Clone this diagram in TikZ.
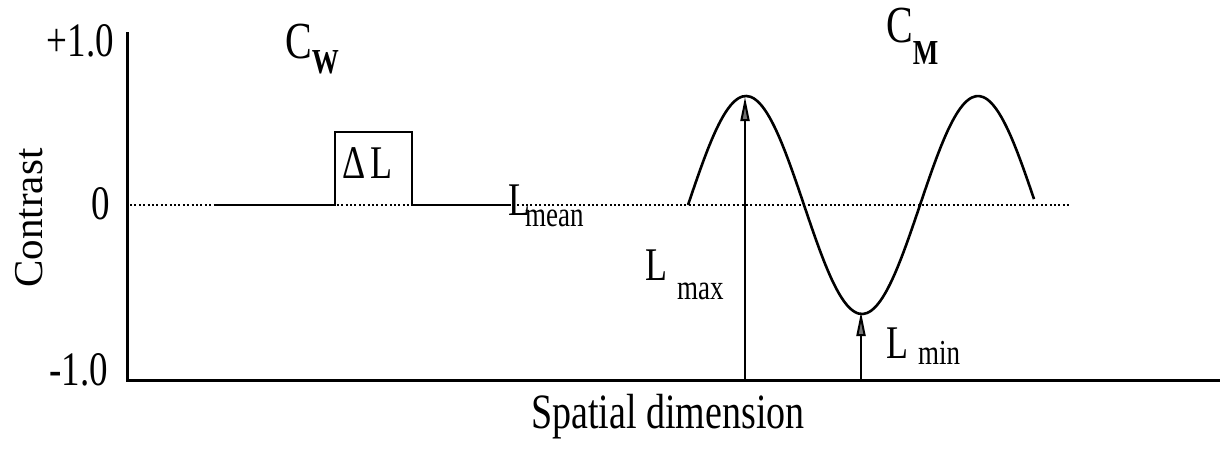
\documentclass[tikz,border=0pt]{standalone}
\usepackage{graphicx}
\usepackage{fontspec}
\setmainfont{Liberation Serif}
\usetikzlibrary{arrows.meta,positioning}
\tikzset{
  axisline/.style={line width=3pt, draw=black},
  curve/.style={line width=2.6pt, draw=black},
  meanline/.style={line width=2pt, dash pattern=on 2pt off 2.4pt, draw=black},
  marker/.style={-{Triangle[length=24pt,width=9pt,fill=black!55]}, line width=2pt, draw=black},
  ticklabel/.style={font=\fontsize{37}{40}\selectfont, inner sep=0pt},
  axislabel/.style={font=\fontsize{38}{44}\selectfont, inner sep=0pt},
  symlabel/.style={font=\fontsize{36}{40}\selectfont, inner sep=0pt}
}
\newcommand{\tall}[1]{\scalebox{1}[1.3]{#1}}
\newcommand{\lowsub}[2]{\raisebox{-#1}{\fontsize{27}{30}\selectfont\tall{#2}}}

\begin{document}
\begin{tikzpicture}[x=1pt, y=-1pt]
\useasboundingbox (0,0) rectangle (1228,448);
% axes
\coordinate (top) at (127,32);
\coordinate (origin) at (127,380);
\coordinate (xend) at (1220,380);
\draw[axisline] (top) -- (origin) -- (xend);
\node[ticklabel, anchor=base east] (pone) at (114,56) {\tall{+1.0}};
\node[ticklabel, anchor=base east] (zero) at (110,219) {\tall{0}};
\node[ticklabel, anchor=base east] (mone) at (108,385) {\tall{-1.0}};
\node[axislabel, font=\fontsize{41}{44}\selectfont, rotate=90] (ylab) at (29,218) {Contrast};
\node[axislabel, anchor=base] (xlab) at (668,428) {\tall{Spatial dimension}};
% mean luminance
\coordinate (mstart) at (130,205);
\coordinate (mend) at (1069,205);
\draw[meanline] (mstart) -- (mend);
% increment (Weber)
\coordinate (wa) at (215,205);
\coordinate (wb) at (335,205);
\coordinate (wc) at (412,205);
\coordinate (wd) at (511,205);
\draw[curve] (wa) -- (wb) -- ++(0,-73) -| (wc) -- (wd);
\node[symlabel, anchor=base west] (dl) at (342,178) {\tall{{\fontsize{36}{38}\selectfont Δ}\hspace{5pt}L}};
\node[symlabel, anchor=base west] (lmean) at (508,215) {\tall{L}\hspace{-5pt}\lowsub{11pt}{mean}};
\node[symlabel, anchor=base west, font=\fontsize{40}{44}\selectfont] (cw) at (285,58) {\tall{C}\lowsub{15pt}{\bfseries W}};
% grating (Michelson)
\draw[curve, domain=688:1034, samples=90, smooth] plot (\x, {205-109*sin((\x-688)/232*360)});
\coordinate (peak) at (745,97);
\coordinate (trough) at (861,312);
\coordinate (pbase) at (745,380);
\coordinate (tbase) at (861,380);
\draw[marker] (pbase) -- (peak);
\draw[marker] (tbase) -- (trough);
\node[symlabel, anchor=base west] (lmax) at (645,280) {\tall{L}\hspace{10pt}\lowsub{19pt}{max}};
\node[symlabel, anchor=base west] (lmin) at (886,358) {\tall{L}\hspace{10pt}\lowsub{6pt}{min}};
\node[symlabel, anchor=base west, font=\fontsize{40}{44}\selectfont] (cm) at (886,42) {\tall{C}\lowsub{22pt}{\bfseries M}};
\end{tikzpicture}
\end{document}
